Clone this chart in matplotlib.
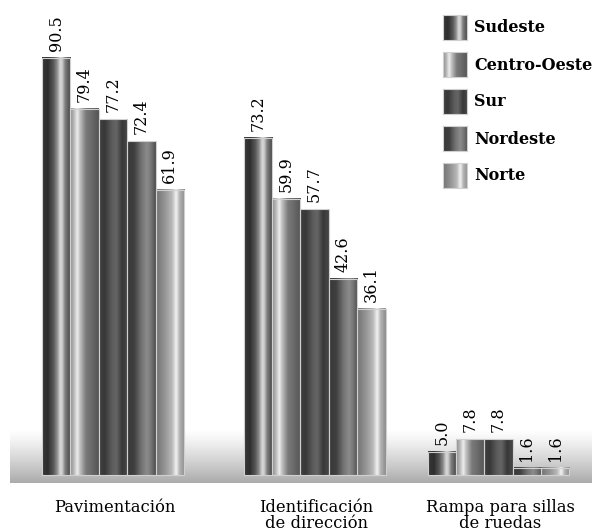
import numpy as np
import matplotlib
matplotlib.use("Agg")
import matplotlib.pyplot as plt
from matplotlib.colors import LinearSegmentedColormap

# ---- data ----
categories = ["Pavimentación", "Identificación\nde dirección", "Rampa para sillas\nde ruedas"]
series = ["Sudeste", "Centro-Oeste", "Sur", "Nordeste", "Norte"]
values = {
    "Sudeste":      [90.5, 73.2, 5.0],
    "Centro-Oeste": [79.4, 59.9, 7.8],
    "Sur":          [77.2, 57.7, 7.8],
    "Nordeste":     [72.4, 42.6, 1.6],
    "Norte":        [61.9, 36.1, 1.6],
}

# ---- style: horizontal gray profiles (cylinder look) ----
profiles = {
    "Sudeste":      [(0, .22), (.2, .18), (.4, .35), (.52, .55), (.63, .85), (.7, .80), (.8, .50), (.92, .35), (1, .28)],
    "Centro-Oeste": [(0, .55), (.12, .70), (.25, .93), (.35, .75), (.55, .48), (.8, .40), (1, .33)],
    "Sur":          [(0, .25), (.2, .22), (.45, .36), (.6, .40), (.8, .22), (1, .28)],
    "Nordeste":     [(0, .22), (.25, .25), (.5, .45), (.7, .55), (.85, .45), (1, .30)],
    "Norte":        [(0, .45), (.3, .58), (.55, .72), (.7, .95), (.82, .70), (1, .55)],
}

def cmap_for(name):
    stops = profiles[name]
    return LinearSegmentedColormap.from_list(name, [(p, (g, g, g)) for p, g in stops])

grad = np.linspace(0, 1, 200).reshape(1, -1)

W, H = 592, 532
fig = plt.figure(figsize=(W / 100, H / 100), dpi=100)
ax = fig.add_axes([0, 0, 1, 1])
px_per_unit = 4.61
base_px = 57  # baseline distance from bottom in pixels
ax.set_xlim(0, W)
ax.set_ylim(-base_px / px_per_unit, (H - base_px) / px_per_unit)
ax.axis("off")

serif = ["DejaVu Serif"]

# gray floor band
y_top = (H - 430 - base_px) / px_per_unit
y_bot = (H - 483 - base_px) / px_per_unit
band = np.linspace(0, 1, 100) ** 1.2
band_img = (1.0 - 0.33 * band).reshape(-1, 1)
ax.imshow(band_img, cmap="gray", vmin=0, vmax=1, extent=[10, W, y_bot, y_top],
          aspect="auto", origin="upper", zorder=0, interpolation="bilinear")

group_centers = [113, 314.5, 498.5]
bar_w = 28.4

for i, s in enumerate(series):
    xs = [c + (i - 2) * bar_w for c in group_centers]
    bars = ax.bar(xs, values[s], width=bar_w, facecolor="none",
                  edgecolor="#d0d0d0", linewidth=0.8, zorder=3)
    cm = cmap_for(s)
    for b, v in zip(bars, values[s]):
        x0, y0 = b.get_x(), b.get_y()
        ax.imshow(grad, cmap=cm, vmin=0, vmax=1, aspect="auto",
                  extent=[x0, x0 + b.get_width(), y0, y0 + b.get_height()],
                  zorder=2, interpolation="bilinear")
        ax.text(x0 + b.get_width() / 2, v + 1.5, f"{v:.1f}", rotation=90,
                ha="center", va="bottom", fontsize=11.5, family=serif, zorder=4)

ax.set_xlim(0, W)
ax.set_ylim(-base_px / px_per_unit, (H - base_px) / px_per_unit)

# category labels
for c, lab in zip(group_centers, categories):
    fig.text((c + 2) / W, 1 - 499 / H, lab, ha="center", va="top", fontsize=11.8,
             family=serif, linespacing=0.95)

# legend
for i, s in enumerate(series):
    top = 15 + i * 37
    lax = fig.add_axes([443 / W, 1 - (top + 25) / H, 24 / W, 25 / H])
    lax.imshow(grad, cmap=cmap_for(s), vmin=0, vmax=1, aspect="auto",
               interpolation="bilinear")
    lax.set_xticks([]); lax.set_yticks([])
    for sp in lax.spines.values():
        sp.set_color("#d0d0d0"); sp.set_linewidth(0.8)
    fig.text(474 / W, 1 - (top + 13) / H, s, ha="left", va="center",
             fontsize=11.5, fontweight="bold", family=serif)

fig.savefig("out.png", dpi=100)
